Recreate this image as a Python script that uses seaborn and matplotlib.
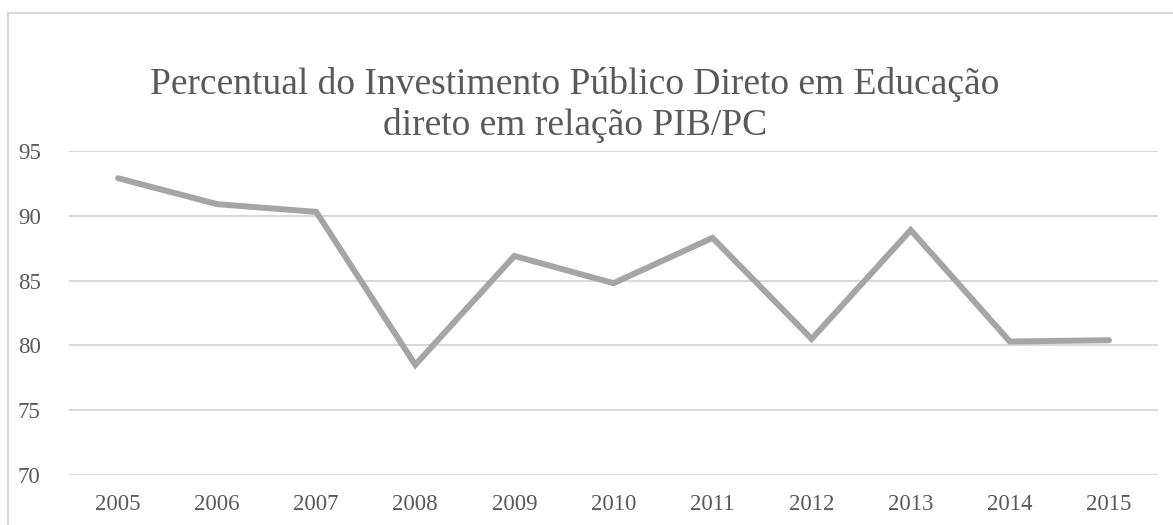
import matplotlib
matplotlib.use("Agg")
import matplotlib.pyplot as plt
import seaborn as sns
import pandas as pd
from matplotlib.lines import Line2D

# data
anos = [2005, 2006, 2007, 2008, 2009, 2010, 2011, 2012, 2013, 2014, 2015]
percentual = [92.9, 90.9, 90.3, 78.5, 86.9, 84.8, 88.3, 80.5, 88.9, 80.3, 80.4]
y_ticks = [70, 75, 80, 85, 90, 95]
titulo = "Percentual do Investimento Público Direto em Educação\ndireto em relação PIB/PC"

df = pd.DataFrame({"Ano": anos, "Percentual": percentual})

sns.set_style("white")
plt.rcParams["font.family"] = ["Liberation Serif", "DejaVu Serif"]

texto = "#595959"
grade = "#D9D9D9"

fig = plt.figure(figsize=(11.73, 5.25), dpi=100)
ax = fig.add_axes([0.0584, 0.0952, 0.9292, 0.6172])

sns.lineplot(data=df, x="Ano", y="Percentual", ax=ax, color="#A5A5A5",
             linewidth=4.3, solid_capstyle="round", solid_joinstyle="miter", zorder=3)

ax.set_xlim(anos[0] - 0.5, anos[-1] + 0.5)
ax.set_ylim(70, 95)
ax.set_xticks(anos)
ax.set_xticklabels([str(a) for a in anos])
ax.set_yticks(y_ticks)
ax.yaxis.grid(True, color=grade, linewidth=1.5)
ax.set_axisbelow(True)
for s in ax.spines.values():
    s.set_visible(False)
ax.tick_params(axis="both", length=0, labelsize=16.5, colors=texto)
ax.tick_params(axis="x", pad=14)
ax.tick_params(axis="y", pad=20)
ax.set_xlabel("")
ax.set_ylabel("")

fig.text(0.49, 0.80, titulo, ha="center", va="center", fontsize=27,
         color=texto, linespacing=1.2)

# chart frame (left and top edges visible)
fig.add_artist(Line2D([8 / 1173, 8 / 1173], [0, 1 - 12.5 / 525],
                      transform=fig.transFigure, color=grade, linewidth=1.5))
fig.add_artist(Line2D([8 / 1173, 1], [1 - 12.5 / 525, 1 - 12.5 / 525],
                      transform=fig.transFigure, color=grade, linewidth=1.5))

fig.savefig("out.png", dpi=100, facecolor="white")
